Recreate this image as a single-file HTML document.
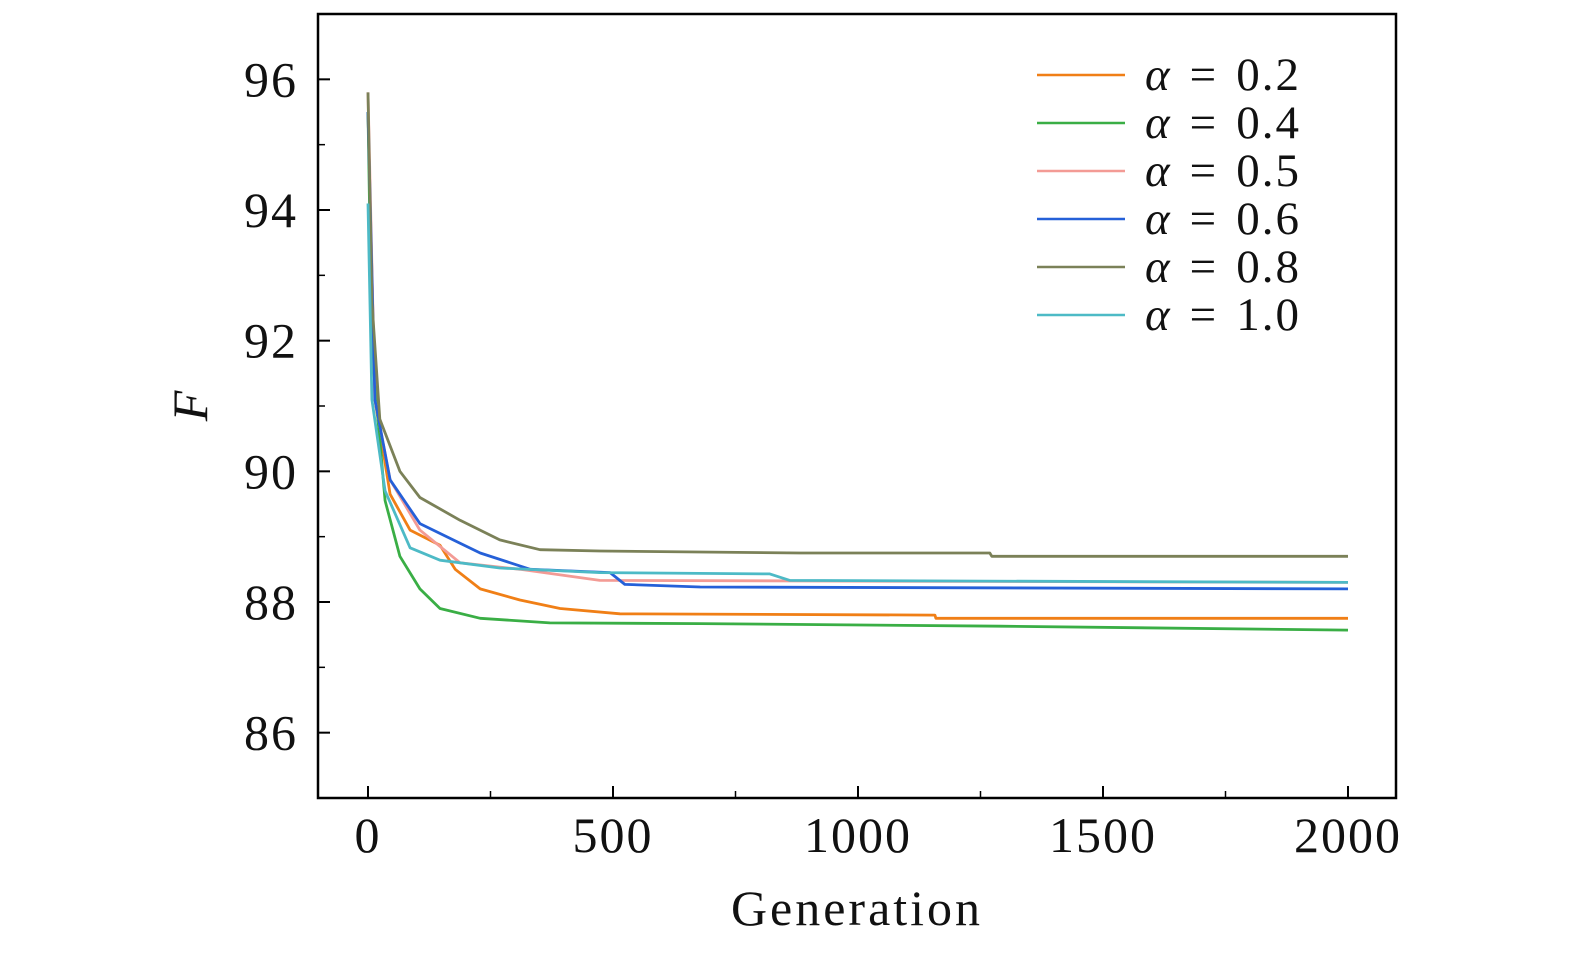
<!DOCTYPE html>
<html><head><meta charset="utf-8"><style>
body{margin:0;background:#fff;}
svg text{font-family:"Liberation Serif",serif;fill:#111;}
</style></head><body>
<svg id="chart" width="1575" height="955">
<g id="plot"></g>
</svg>
<script>
const xTicks=[0,500,1000,1500,2000];
const yTicks=[86,88,90,92,94,96];
const labels=["0.2","0.4","0.5","0.6","0.8","1.0"];
const colors=["#f07f16","#3aae45","#f39b95","#2560d8","#7b8158","#4dbac6"];
const genA=[0,14,45,86,147,178,229,310,392,514,1157,1159,2000];
const valA=[95.5,91.1,89.65,89.1,88.87,88.5,88.2,88.03,87.9,87.82,87.8,87.75,87.75];
const genB=[0,8,35,65,106,147,229,371,678,1290,2000];
const valB=[95.5,91.85,89.55,88.7,88.2,87.9,87.75,87.68,87.67,87.63,87.57];
const genC=[0,14,45,106,188,310,473,2000];
const valC=[95.8,91.1,89.87,89.1,88.6,88.5,88.33,88.3];
const genD=[0,14,45,106,188,229,331,494,524,678,2000];
const valD=[95.5,91.1,89.87,89.2,88.9,88.75,88.5,88.45,88.27,88.23,88.2];
const genE=[0,8,24,65,106,188,269,351,473,882,1269,1273,2000];
const valE=[95.8,92.6,90.8,90.0,89.6,89.25,88.95,88.8,88.78,88.75,88.75,88.7,88.7];
const genF=[0,8,35,86,147,269,473,820,861,2000];
const valF=[94.1,91.1,89.7,88.83,88.64,88.52,88.45,88.43,88.33,88.3];
const gens=[genA,genB,genC,genD,genE,genF];
const vals=[valA,valB,valC,valD,valE,valF];

const L=318,R=1396,T=14,B=798;
const X=g=>368+g*0.49;
const Y=v=>T+(97-v)*(B-T)/12;
const NS="http://www.w3.org/2000/svg";
const p=document.getElementById('plot');
function mk(t,a,parent){const e=document.createElementNS(NS,t);for(const k in a)e.setAttribute(k,a[k]);(parent||p).appendChild(e);return e;}

for(let s=0;s<gens.length;s++){
  const pts=gens[s].map((g,i)=>X(g).toFixed(1)+','+Y(vals[s][i]).toFixed(1)).join(' ');
  const pl=mk('polyline',{points:pts,fill:'none',stroke:colors[s],'stroke-width':2.8,'stroke-linejoin':'round'});
  
  
}
const frame=mk('rect',{x:L,y:T,width:R-L,height:B-T,fill:'none',stroke:'#000','stroke-width':2.5});



for(const t of xTicks){
  mk('line',{x1:X(t),x2:X(t),y1:B,y2:B-12,stroke:'#000','stroke-width':2});
  const tx=mk('text',{x:X(t),y:852,'font-size':50,'letter-spacing':2,'text-anchor':'middle'});tx.textContent=t;
  
  
}
for(let t=250;t<2000;t+=500){mk('line',{x1:X(t),x2:X(t),y1:B,y2:B-7,stroke:'#000','stroke-width':1.5});}
for(const t of yTicks){
  mk('line',{x1:L,x2:L+12,y1:Y(t),y2:Y(t),stroke:'#000','stroke-width':2});
  const ty=mk('text',{x:298,y:Y(t)+17,'font-size':50,'letter-spacing':2,'text-anchor':'end'});ty.textContent=t;
  
  
}
for(let t=85;t<=97;t+=2){mk('line',{x1:L,x2:L+7,y1:Y(t),y2:Y(t),stroke:'#000','stroke-width':1.5});}

const xt=mk('text',{x:857,y:925,'font-size':50,'letter-spacing':3,'text-anchor':'middle'});xt.textContent='Generation';


const yt=mk('text',{x:0,y:0,'font-size':50,'font-style':'italic','text-anchor':'middle',transform:'translate(207,406) rotate(-90)'});yt.textContent='F';



for(let s=0;s<labels.length;s++){
  const y=75+s*48;
  const g=mk('g',{});
  
  
  mk('line',{x1:1037,x2:1125,y1:y,y2:y,stroke:colors[s],'stroke-width':2.6},g);
  const tx=mk('text',{x:1145,y:y+15,'font-size':47,'letter-spacing':2},g);
  tx.innerHTML='<tspan font-style="italic">α</tspan><tspan dx="18">=</tspan><tspan dx="18">'+labels[s]+'</tspan>';
}
</script>
</body></html>
